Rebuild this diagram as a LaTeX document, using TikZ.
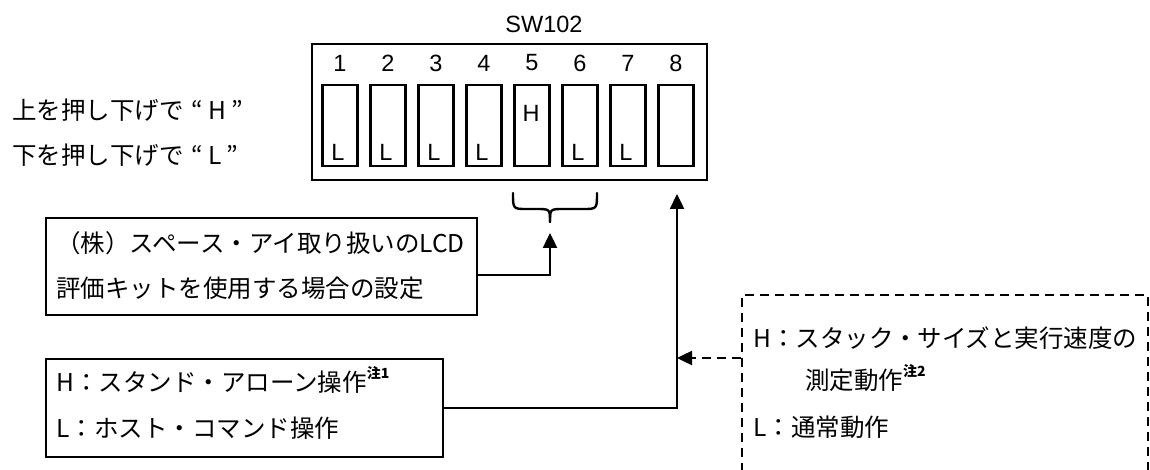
\documentclass[tikz,border=0pt]{standalone}
\usepackage{fontspec}
\setmainfont{Noto Sans CJK JP}
\newfontfamily\lat{Liberation Sans}
\usetikzlibrary{arrows.meta}
\newcommand\chunote[1]{\raisebox{0.5em}{\fontsize{14}{14}\selectfont\bfseries 注#1}}
\begin{document}
\begin{tikzpicture}[x=1pt,y=-1pt,
  box/.style={draw,line width=2.4pt,rectangle,inner sep=0pt},
  sbox/.style={draw,line width=2.4pt,rectangle,inner sep=0pt,minimum width=35pt,minimum height=81pt},
  lab/.style={inner sep=0pt,font=\lat\fontsize{23.5}{28}\selectfont},
  txt/.style={anchor=west,inner sep=0pt,font=\fontsize{24.5}{28}\selectfont},
  conn/.style={line width=2.4pt},
  dbox/.style={draw,line width=2.5pt,dash pattern=on 9pt off 6pt,rectangle,inner sep=0pt},
  tip/.style={-{Triangle[length=15pt,width=14pt]}}]
\clip (0,0) rectangle (1150,470);
\fill[white] (0,0) rectangle (1150,470);
% title
\node[lab] (title) at (544,24) {SW102};
% outer switch box
\node[box,minimum width=395pt,minimum height=136pt] (sw) at (509.5,112) {};
\foreach \i in {1,...,8}{
  \node[sbox] (s\i) at ({340+48*(\i-1)},125.5) {};
  \node[lab] (n\i) at ({340+48*(\i-1)},63) {\i};
}
\foreach \i in {1,2,3,4,6,7}{
  \node[lab] (l\i) at ({338+48*(\i-1)},152) {L};
}
\node[lab] (h5) at (531,113) {H};
% left explanation
\node[txt] (up) at (12,110) {上を押し下げで\hspace{0.3em}“ H ”};
\node[txt] (dn) at (12,155) {下を押し下げで\hspace{0.3em}“ L ”};
% brace
\draw[line width=2.4pt,line cap=round] (513,193) .. controls (513,209) and (513,209) .. (527,209) -- (536,209) .. controls (550,209) and (550,209) .. (550,222);
\draw[line width=2.4pt,line cap=round] (597,193) .. controls (597,209) and (597,209) .. (583,209) -- (564,209) .. controls (550,209) and (550,209) .. (550,222);
\coordinate (bt) at (550,222);
% LCD box
\node[box,minimum width=431pt,minimum height=97pt] (lcd) at (261.5,266.5) {};
\node[txt] (t1) at (56,243) {（株）スペース・アイ取り扱いのLCD};
\node[txt] (t2) at (56,288) {評価キットを使用する場合の設定};
\coordinate (a1) at (550,233);
\draw[conn,tip] ([yshift=-8.5pt]lcd.east) -| (a1);
% operation box
\node[box,minimum width=397pt,minimum height=98pt] (op) at (244.5,408) {};
\node[txt] (t3) at (56,380) {H：スタンド・アローン操作\chunote{1}};
\node[txt] (t4) at (56,428) {L：ホスト・コマンド操作};
\coordinate (a2) at (677,194);
\draw[conn,tip] (op.east) -| (a2);
% dashed box
\node[dbox,minimum width=406pt,minimum height=205pt] (ms) at (945,397.5) {};
\node[txt] (t5) at (753,338) {H：スタック・サイズと実行速度の};
\node[txt] (t6) at (805,378) {測定動作\chunote{2}};
\node[txt] (t7) at (753,427) {L：通常動作};
\coordinate (mid) at (677,358);
\draw[conn,line width=2.5pt,dash pattern=on 9pt off 6pt,tip] (ms.west |- mid) -- (mid);
\end{tikzpicture}
\end{document}
